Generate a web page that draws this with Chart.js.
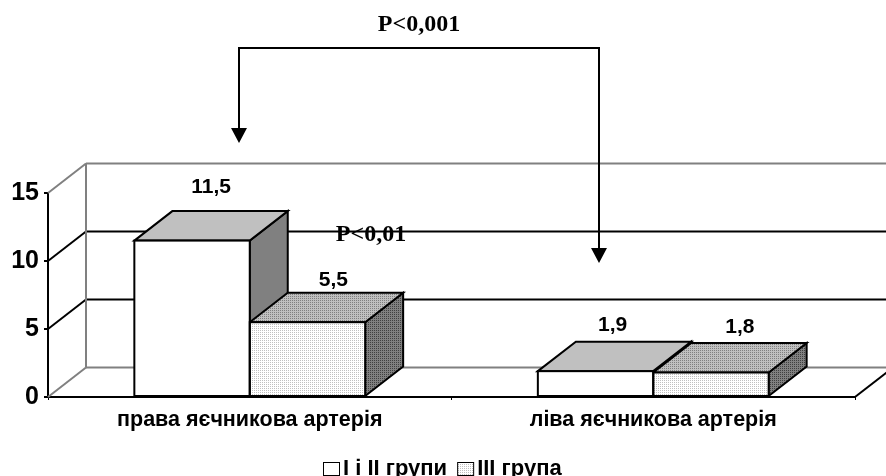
<!DOCTYPE html>
<html>
<head>
<meta charset="utf-8">
<style>
  html, body { margin: 0; padding: 0; background: #fff; }
  #chart-box { position: relative; width: 886px; height: 476px; }
</style>
<script src="https://cdn.jsdelivr.net/npm/chart.js@4/dist/chart.umd.js"></script>
</head>
<body>
<div id="chart-box"><canvas id="artery-chart"></canvas></div>
<script>
var categories = ["права яєчникова артерія", "ліва яєчникова артерія"];
var seriesNames = ["І і ІІ групи", "ІІІ група"];
var group12 = [11.5, 1.9];
var group3 = [5.5, 1.8];
var yTicks = [0, 5, 10, 15];

// depth of the fake 3d box, in pixels
var depthX = 38;
var depthY = 29.5;

// small dotted fill, same idea as the old office hatch patterns
function stipple(bg, dot) {
  var c = document.createElement("canvas");
  c.width = 2;
  c.height = 2;
  var g = c.getContext("2d");
  g.fillStyle = bg;
  g.fillRect(0, 0, 2, 2);
  g.fillStyle = dot;
  g.fillRect(0, 0, 1, 1);
  return g.createPattern(c, "repeat");
}

var ctxMain = document.getElementById("artery-chart").getContext("2d");

var faces = [
  { top: "#c0c0c0", side: "#808080" },
  { top: stipple("#c0c0c0", "#808080"), side: stipple("#808080", "#404040") },
];
var fronts = ["#ffffff", stipple("#ffffff", "#c0c0c0")];

function poly(g, pts, fill) {
  g.beginPath();
  pts.forEach(function (p, i) {
    if (i === 0) g.moveTo(p[0], p[1]);
    else g.lineTo(p[0], p[1]);
  });
  g.closePath();
  if (fill) {
    g.fillStyle = fill;
    g.fill();
  }
  g.stroke();
}

function line(g, x1, y1, x2, y2, color) {
  g.strokeStyle = color;
  g.beginPath();
  g.moveTo(x1, y1);
  g.lineTo(x2, y2);
  g.stroke();
}

function arrowDown(g, x, y1, y2) {
  line(g, x, y1, x, y2 - 14, "#000");
  g.fillStyle = "#000";
  g.beginPath();
  g.moveTo(x - 8, y2 - 15);
  g.lineTo(x + 8, y2 - 15);
  g.lineTo(x, y2);
  g.closePath();
  g.fill();
}

// walls, floor and the top and side of every bar go under the bar fronts
var boxPlugin = {
  id: "box3d",
  beforeDatasetsDraw: function (chart) {
    var g = chart.ctx;
    var x = chart.scales.x;
    var y = chart.scales.y;
    g.save();
    g.lineWidth = 2;
    g.lineCap = "butt";
    yTicks.forEach(function (t) {
      var py = y.getPixelForValue(t);
      var edge = t === 0 || t === 15;
      var color = edge ? "#808080" : "#000";
      line(g, x.left, py, x.left + depthX, py - depthY, color);
      line(g, x.left + depthX, py - depthY, x.right + depthX, py - depthY, color);
    });
    line(g, x.left + depthX, y.getPixelForValue(15) - depthY, x.left + depthX, y.getPixelForValue(0) - depthY, "#808080");
    line(g, x.right, y.getPixelForValue(0), x.right + depthX, y.getPixelForValue(0) - depthY, "#000");

    g.strokeStyle = "#000";
    g.lineJoin = "miter";
    chart.data.datasets.forEach(function (ds, d) {
      chart.getDatasetMeta(d).data.forEach(function (bar) {
        var l = bar.x - bar.width / 2;
        var r = bar.x + bar.width / 2;
        poly(g, [[r, bar.y], [r + depthX, bar.y - depthY], [r + depthX, bar.base - depthY], [r, bar.base]], faces[d].side);
        poly(g, [[l, bar.y], [l + depthX, bar.y - depthY], [r + depthX, bar.y - depthY], [r, bar.y]], faces[d].top);
      });
    });
    g.restore();
  },
  afterDatasetsDraw: function (chart) {
    var g = chart.ctx;
    // value captions sit above the bar tops, nudged by hand per bar
    var nudge = [
      [[0, -24], [-2, -16.5]],
      [[7, -12.5], [10, -16]],
    ];
    g.save();
    g.fillStyle = "#000";
    g.textAlign = "center";
    g.textBaseline = "middle";
    g.font = "bold 21px 'Liberation Sans'";
    g.strokeStyle = "#000";
    g.lineWidth = 2;
    chart.data.datasets.forEach(function (ds, d) {
      chart.getDatasetMeta(d).data.forEach(function (bar, i) {
        // outline centred on the bar edge so neighbours share one line
        g.strokeRect(bar.x - bar.width / 2, bar.y, bar.width, bar.base - bar.y);
        var text = String(ds.data[i]).replace(".", ",");
        g.fillText(text, bar.x + depthX / 2 + nudge[d][i][0], bar.y - depthY + nudge[d][i][1]);
      });
    });

    // significance brackets
    g.font = "bold 24px 'Liberation Serif'";
    g.fillText("P<0,001", 419, 25);
    g.fillText("P<0,01", 371, 235);
    line(g, 239, 48, 599, 48, "#000");
    arrowDown(g, 239, 47, 143);
    arrowDown(g, 599, 47, 263);

    // legend row, tighter box-to-text gap than the stock legend allows
    g.font = "bold 22px 'Liberation Sans'";
    g.textAlign = "left";
    g.textBaseline = "alphabetic";
    g.lineWidth = 1;
    g.strokeStyle = "#000";
    var lx = 323;
    seriesNames.forEach(function (name, i) {
      g.fillStyle = fronts[i];
      g.fillRect(lx + 0.5, 462.5, 16, 13);
      g.strokeRect(lx + 0.5, 462.5, 16, 13);
      g.fillStyle = "#000";
      g.fillText(name, lx + 20, 475);
      lx += 20 + g.measureText(name).width + 10;
    });
    g.restore();
  },
};

var chart = new Chart(ctxMain, {
  type: "bar",
  data: {
    labels: categories,
    datasets: [
      {
        label: seriesNames[0],
        data: group12,
        backgroundColor: fronts[0],
        borderWidth: 0,
      },
      {
        label: seriesNames[1],
        data: group3,
        backgroundColor: fronts[1],
        borderWidth: 0,
      },
    ],
  },
  options: {
    responsive: true,
    maintainAspectRatio: false,
    animation: false,
    events: [],
    layout: { padding: { top: 193, right: 31, left: 0, bottom: 0 } },
    datasets: { bar: { categoryPercentage: 0.572, barPercentage: 1 } },
    plugins: {
      tooltip: { enabled: false },
      title: { display: false },
      legend: { display: false },
    },
    scales: {
      x: {
        border: { display: true, color: "#000", width: 2 },
        grid: { drawOnChartArea: false, drawTicks: true, tickLength: 3, color: "#000", lineWidth: 1 },
        ticks: {
          color: "#000",
          padding: 7,
          maxRotation: 0,
          font: { family: "'Liberation Sans'", size: 21.5, weight: "bold" },
        },
        afterFit: function (scale) {
          scale.height = 79;
        },
      },
      y: {
        min: 0,
        max: 15,
        border: { display: true, color: "#000", width: 2 },
        grid: { drawOnChartArea: false, drawTicks: true, tickLength: 4, color: "#000", lineWidth: 2 },
        ticks: {
          stepSize: 5,
          color: "#000",
          padding: 5,
          font: { family: "'Liberation Sans'", size: 25, weight: "bold" },
        },
        afterFit: function (scale) {
          scale.width = 48;
        },
      },
    },
  },
  plugins: [boxPlugin],
});
</script>
</body>
</html>
